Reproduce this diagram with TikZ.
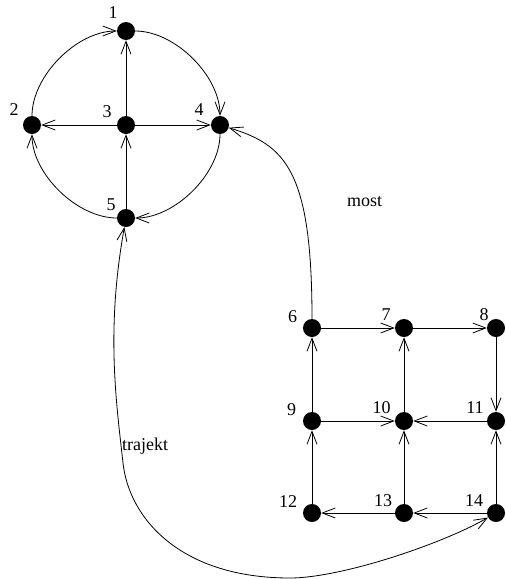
\documentclass[tikz,border=0pt]{standalone}
\usepackage{fontspec}
\setmainfont{Liberation Serif}
\usetikzlibrary{arrows.meta}
\begin{document}
\begin{tikzpicture}[x=1pt,y=-1pt,
  dot/.style={circle,fill=black,draw=none,minimum size=18pt,inner sep=0pt},
  lab/.style={inner sep=0pt,font=\fontsize{18}{20}\selectfont},
  edge/.style={line width=0.8pt,-{Straight Barb[length=13pt,width=10pt,line width=0.8pt]}},
  both/.style={line width=0.8pt,{Straight Barb[length=13pt,width=10pt,line width=0.8pt]}-{Straight Barb[length=13pt,width=10pt,line width=0.8pt]}}]
\useasboundingbox (0,0) rectangle (506,579);
% nodes
\node[dot] (n1) at (126,31) {};
\node[dot] (n2) at (32,125) {};
\node[dot] (n3) at (126,125) {};
\node[dot] (n4) at (220,125) {};
\node[dot] (n5) at (126,218) {};
\node[dot] (n6) at (312,328) {};
\node[dot] (n7) at (404,328) {};
\node[dot] (n8) at (496,328) {};
\node[dot] (n9) at (312,421) {};
\node[dot] (n10) at (404,421) {};
\node[dot] (n11) at (496,421) {};
\node[dot] (n12) at (312,513) {};
\node[dot] (n13) at (404,513) {};
\node[dot] (n14) at (496,513) {};
% labels
\node[lab] (l1) at (113,12.5) {1};
\node[lab] (l2) at (14,110) {2};
\node[lab] (l3) at (107,112) {3};
\node[lab] (l4) at (199,110) {4};
\node[lab] (l5) at (111,205) {5};
\node[lab] (l6) at (292.5,317) {6};
\node[lab] (l7) at (386,315) {7};
\node[lab] (l8) at (484,315) {8};
\node[lab] (l9) at (291.5,410) {9};
\node[lab] (l10) at (381.5,408) {10};
\node[lab] (l11) at (475,408) {11};
\node[lab] (l12) at (288,502) {12};
\node[lab] (l13) at (383,500.5) {13};
\node[lab] (l14) at (474,500.5) {14};
\node[lab,anchor=base west] (most) at (347,206) {most};
\node[lab,anchor=base west] (traj) at (122,450) {trajekt};
% upper part
\draw[edge] (n3) -- (n1);
\draw[edge] (n3) -- (n2);
\draw[edge] (n3) -- (n4);
\draw[edge] (n5) -- (n3);
\draw[edge] (n2) to[out=90,in=180,looseness=0.85] (n1);
\draw[edge] (n1) to[out=0,in=90,looseness=0.85] (n4);
\draw[edge] (n4) to[out=-90,in=0,looseness=0.85] (n5);
\draw[edge] (n5) to[out=180,in=-90,looseness=0.85] (n2);
% grid
\draw[edge] (n6) -- (n7);
\draw[edge] (n7) -- (n8);
\draw[edge] (n8) -- (n11);
\draw[edge] (n9) -- (n6);
\draw[edge] (n9) -- (n10);
\draw[edge] (n11) -- (n10);
\draw[edge] (n10) -- (n7);
\draw[edge] (n12) -- (n9);
\draw[edge] (n13) -- (n12);
\draw[edge] (n14) -- (n13);
\draw[edge] (n13) -- (n10);
\draw[edge] (n14) -- (n11);
% long connectors
\draw[edge] (n6) .. controls (312,170) and (285,145) .. (n4);
\draw[both] (n5) .. controls (106,330) and (116,400) .. (123,463)
  .. controls (129,518) and (180,578) .. (290,578)
  .. controls (340,578) and (440,545) .. (n14);
\end{tikzpicture}
\end{document}
